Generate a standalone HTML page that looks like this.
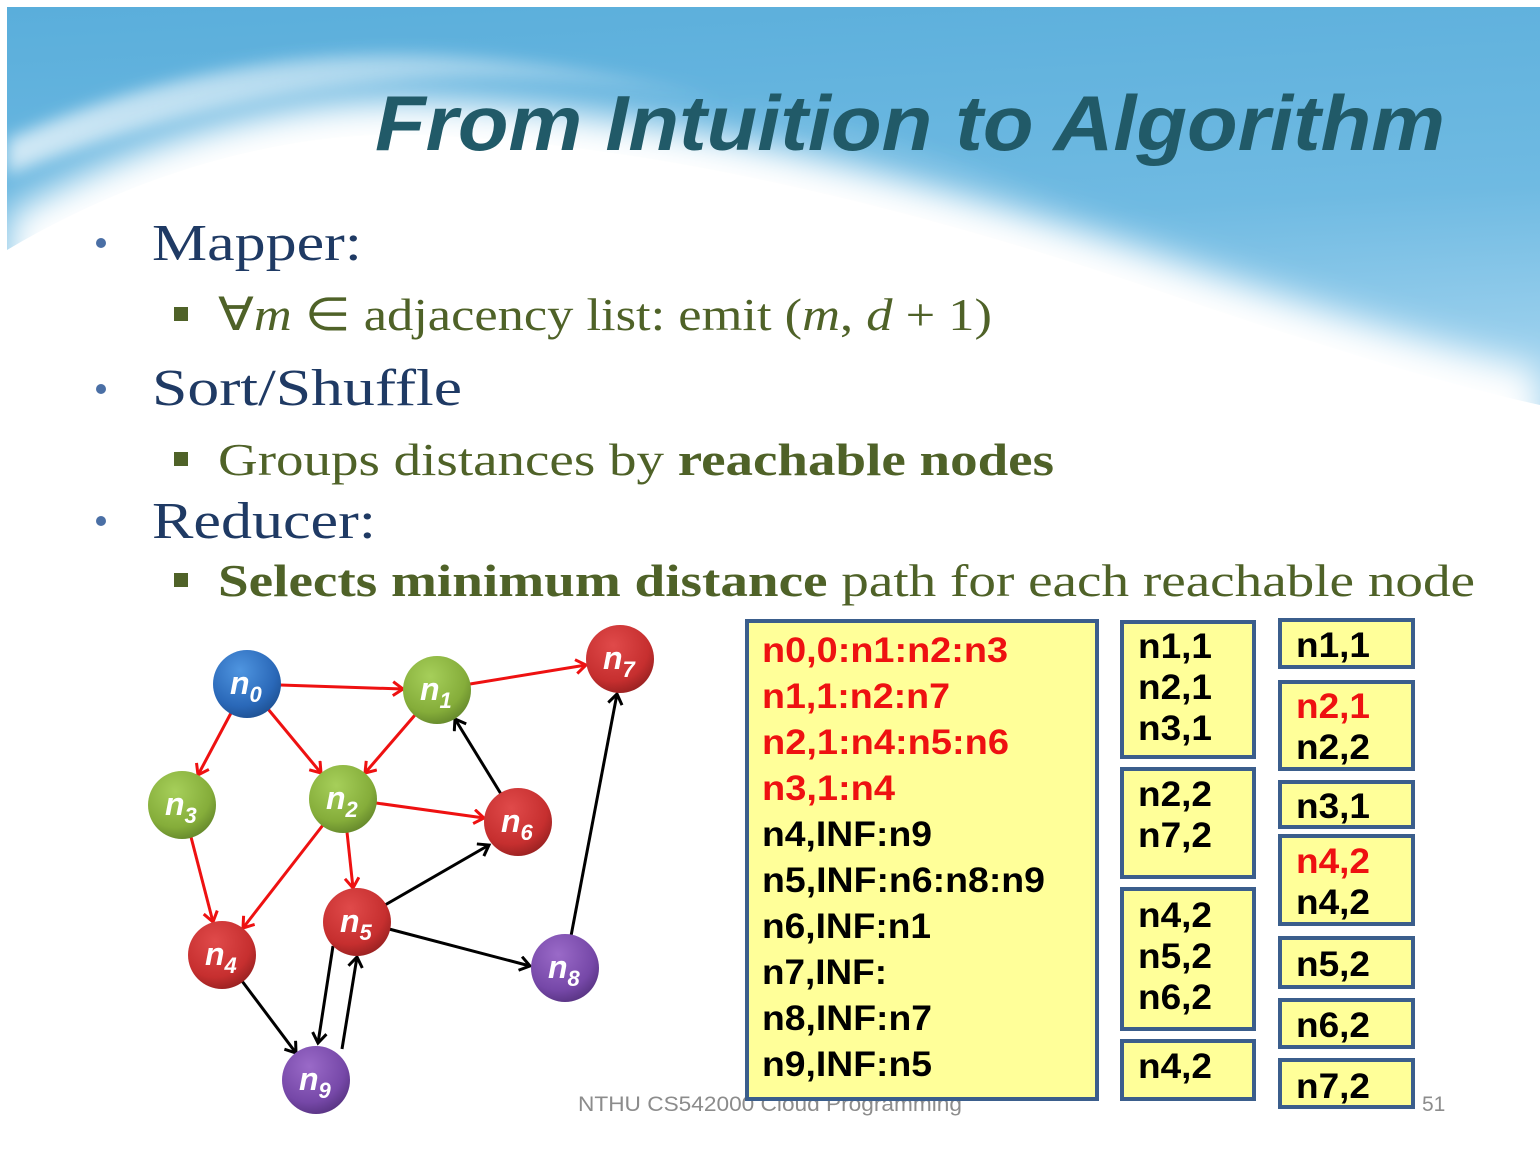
<!DOCTYPE html>
<html><head><meta charset="utf-8"><style>
html,body{margin:0;padding:0;background:#fff}
svg{display:block}
</style></head><body>
<svg width="1540" height="1155" viewBox="0 0 1540 1155" xmlns="http://www.w3.org/2000/svg">
<defs>
<linearGradient id="sky" x1="0" y1="0" x2="0.2" y2="1">
<stop offset="0" stop-color="#5aaedb"/><stop offset="0.6" stop-color="#6fbae2"/><stop offset="1" stop-color="#9fd2ee"/>
</linearGradient>
<linearGradient id="hl" x1="0" y1="0" x2="1" y2="0">
<stop offset="0" stop-color="#fff" stop-opacity="0.7"/><stop offset="0.5" stop-color="#fff" stop-opacity="0.35"/><stop offset="1" stop-color="#fff" stop-opacity="0"/>
</linearGradient>
<filter id="blur" x="-10%" y="-20%" width="120%" height="140%"><feGaussianBlur stdDeviation="18"/></filter>
<filter id="blur2" x="-10%" y="-50%" width="120%" height="200%"><feGaussianBlur stdDeviation="8"/></filter>
<radialGradient id="gB" cx="0.4" cy="0.3" r="0.75"><stop offset="0" stop-color="#4f95e0"/><stop offset="0.7" stop-color="#2a68b8"/><stop offset="1" stop-color="#1d4f90"/></radialGradient>
<radialGradient id="gG" cx="0.4" cy="0.3" r="0.75"><stop offset="0" stop-color="#a6cf5a"/><stop offset="0.7" stop-color="#85ad3a"/><stop offset="1" stop-color="#62852a"/></radialGradient>
<radialGradient id="gR" cx="0.4" cy="0.3" r="0.75"><stop offset="0" stop-color="#e04a4a"/><stop offset="0.7" stop-color="#c62f2f"/><stop offset="1" stop-color="#952020"/></radialGradient>
<radialGradient id="gP" cx="0.4" cy="0.3" r="0.75"><stop offset="0" stop-color="#9a6ac8"/><stop offset="0.7" stop-color="#7648a8"/><stop offset="1" stop-color="#563280"/></radialGradient>
<marker id="aR" markerWidth="20" markerHeight="20" refX="14" refY="8" orient="auto" markerUnits="userSpaceOnUse">
<polyline points="4,1 14,8 4,15" fill="none" stroke="#ee1111" stroke-width="3"/></marker>
<marker id="aK" markerWidth="20" markerHeight="20" refX="14" refY="8" orient="auto" markerUnits="userSpaceOnUse">
<polyline points="4,1 14,8 4,15" fill="none" stroke="#000" stroke-width="3"/></marker>
</defs>
<!-- background -->
<rect x="7" y="7" width="1533" height="1148" fill="#fff"/>
<rect x="7" y="7" width="1533" height="420" fill="url(#sky)"/>
<path d="M7,140 C150,75 300,50 430,55 C650,65 850,130 1100,220 C850,110 650,75 460,78 C300,82 150,120 7,175 Z" fill="url(#hl)" filter="url(#blur2)"/>
<path d="M7,215 C150,130 300,95 420,100 C700,110 1000,200 1200,270 C1350,320 1450,350 1540,370 V1155 H7 Z" fill="#fff" filter="url(#blur)"/>
<path d="M7,250 C150,165 300,130 420,135 C700,145 1000,235 1200,305 C1350,355 1450,385 1540,405 V1155 H7 Z" fill="#fff"/>
<!-- title -->
<text x="375" y="150" font-family="Liberation Sans, sans-serif" font-weight="bold" font-style="italic" font-size="78" fill="#215a68" textLength="1070" lengthAdjust="spacingAndGlyphs">From Intuition to Algorithm</text>
<!-- bullets -->
<g font-family="Liberation Serif, serif">
<circle cx="101" cy="243" r="5" fill="#4a6fa5"/>
<text x="152" y="260" font-size="52" fill="#1f3a64" textLength="210" lengthAdjust="spacingAndGlyphs">Mapper:</text>
<rect x="174" y="307" width="14" height="14" fill="#4f6228"/>
<text x="218" y="330" font-size="46" fill="#4f6228" textLength="774" lengthAdjust="spacingAndGlyphs">∀<tspan font-style="italic">m</tspan> ∈ adjacency list: emit (<tspan font-style="italic">m</tspan>, <tspan font-style="italic">d</tspan> + 1)</text>
<circle cx="101" cy="389" r="5" fill="#4a6fa5"/>
<text x="152" y="405" font-size="52" fill="#1f3a64" textLength="310" lengthAdjust="spacingAndGlyphs">Sort/Shuffle</text>
<rect x="174" y="452" width="14" height="14" fill="#4f6228"/>
<text x="218" y="475" font-size="46" fill="#4f6228" textLength="836" lengthAdjust="spacingAndGlyphs">Groups distances by <tspan font-weight="bold">reachable nodes</tspan></text>
<circle cx="101" cy="521" r="5" fill="#4a6fa5"/>
<text x="152" y="538" font-size="52" fill="#1f3a64" textLength="224" lengthAdjust="spacingAndGlyphs">Reducer:</text>
<rect x="174" y="573" width="14" height="14" fill="#4f6228"/>
<text x="218" y="596" font-size="46" fill="#4f6228" textLength="1257" lengthAdjust="spacingAndGlyphs"><tspan font-weight="bold">Selects minimum distance</tspan> path for each reachable node</text>
</g>
<!-- edges -->
<g stroke-width="3" fill="none">
<g stroke="#ee1111">
<line x1="280" y1="685" x2="403" y2="689" marker-end="url(#aR)"/>
<line x1="231" y1="713" x2="198" y2="775" marker-end="url(#aR)"/>
<line x1="268" y1="709" x2="321" y2="773" marker-end="url(#aR)"/>
<line x1="415" y1="715" x2="365" y2="773" marker-end="url(#aR)"/>
<line x1="470" y1="684" x2="586" y2="665" marker-end="url(#aR)"/>
<line x1="376" y1="803" x2="484" y2="818" marker-end="url(#aR)"/>
<line x1="347" y1="832" x2="353" y2="888" marker-end="url(#aR)"/>
<line x1="323" y1="825" x2="243" y2="928" marker-end="url(#aR)"/>
<line x1="191" y1="837" x2="213" y2="922" marker-end="url(#aR)"/>
</g>
<g stroke="#000">
<line x1="501" y1="794" x2="455" y2="719" marker-end="url(#aK)"/>
<line x1="385" y1="905" x2="489" y2="845" marker-end="url(#aK)"/>
<line x1="389" y1="929" x2="530" y2="966" marker-end="url(#aK)"/>
<line x1="242" y1="981" x2="296" y2="1053" marker-end="url(#aK)"/>
<line x1="571" y1="936" x2="617" y2="694" marker-end="url(#aK)"/>
<line x1="333" y1="946" x2="318" y2="1043" marker-end="url(#aK)"/>
<line x1="342" y1="1049" x2="357" y2="957" marker-end="url(#aK)"/>
</g>
</g>
<!-- nodes -->
<g font-family="Liberation Sans, sans-serif" font-weight="bold" font-style="italic" fill="#fff">
<circle cx="247" cy="684" r="34" fill="url(#gB)"/>
<circle cx="437" cy="690" r="34" fill="url(#gG)"/>
<circle cx="620" cy="659" r="34" fill="url(#gR)"/>
<circle cx="182" cy="805" r="34" fill="url(#gG)"/>
<circle cx="343" cy="799" r="34" fill="url(#gG)"/>
<circle cx="518" cy="822" r="34" fill="url(#gR)"/>
<circle cx="357" cy="922" r="34" fill="url(#gR)"/>
<circle cx="222" cy="955" r="34" fill="url(#gR)"/>
<circle cx="565" cy="968" r="34" fill="url(#gP)"/>
<circle cx="316" cy="1080" r="34" fill="url(#gP)"/>
<g font-size="32">
<text x="230" y="694">n<tspan font-size="22" dy="8">0</tspan></text>
<text x="420" y="700">n<tspan font-size="22" dy="8">1</tspan></text>
<text x="603" y="669">n<tspan font-size="22" dy="8">7</tspan></text>
<text x="165" y="815">n<tspan font-size="22" dy="8">3</tspan></text>
<text x="326" y="809">n<tspan font-size="22" dy="8">2</tspan></text>
<text x="501" y="832">n<tspan font-size="22" dy="8">6</tspan></text>
<text x="340" y="932">n<tspan font-size="22" dy="8">5</tspan></text>
<text x="205" y="965">n<tspan font-size="22" dy="8">4</tspan></text>
<text x="548" y="978">n<tspan font-size="22" dy="8">8</tspan></text>
<text x="299" y="1090">n<tspan font-size="22" dy="8">9</tspan></text>
</g>
</g>
<!-- footer -->
<g font-family="Liberation Sans, sans-serif" font-size="21" fill="#8c8c8c">
<text x="578" y="1111" textLength="384" lengthAdjust="spacingAndGlyphs">NTHU CS542000 Cloud Programming</text>
<text x="1422" y="1111">51</text>
</g>
<!-- boxes -->
<g fill="#ffff99" stroke="#3b5e8c" stroke-width="4">
<rect x="747" y="621" width="350" height="478"/>
<rect x="1122" y="622" width="132" height="135"/>
<rect x="1122" y="769" width="132" height="108"/>
<rect x="1122" y="889" width="132" height="140"/>
<rect x="1122" y="1041" width="132" height="58"/>
<rect x="1280" y="620" width="133" height="47"/>
<rect x="1280" y="682" width="133" height="87"/>
<rect x="1280" y="782" width="133" height="45"/>
<rect x="1280" y="836" width="133" height="88"/>
<rect x="1280" y="938" width="133" height="49"/>
<rect x="1280" y="1000" width="133" height="47"/>
<rect x="1280" y="1060" width="133" height="47"/>
</g>
<g font-family="Liberation Sans, sans-serif" font-weight="bold" font-size="35">
<g fill="#ee1111">
<text x="762" y="662" textLength="246" lengthAdjust="spacingAndGlyphs">n0,0:n1:n2:n3</text>
<text x="762" y="708" textLength="188" lengthAdjust="spacingAndGlyphs">n1,1:n2:n7</text>
<text x="762" y="754" textLength="247" lengthAdjust="spacingAndGlyphs">n2,1:n4:n5:n6</text>
<text x="762" y="800" textLength="133" lengthAdjust="spacingAndGlyphs">n3,1:n4</text>
<text x="1296" y="718" textLength="74" lengthAdjust="spacingAndGlyphs">n2,1</text>
<text x="1296" y="873" textLength="74" lengthAdjust="spacingAndGlyphs">n4,2</text>
</g>
<g fill="#000">
<text x="762" y="846" textLength="170" lengthAdjust="spacingAndGlyphs">n4,INF:n9</text>
<text x="762" y="892" textLength="283" lengthAdjust="spacingAndGlyphs">n5,INF:n6:n8:n9</text>
<text x="762" y="938" textLength="169" lengthAdjust="spacingAndGlyphs">n6,INF:n1</text>
<text x="762" y="984" textLength="125" lengthAdjust="spacingAndGlyphs">n7,INF:</text>
<text x="762" y="1030" textLength="170" lengthAdjust="spacingAndGlyphs">n8,INF:n7</text>
<text x="762" y="1076" textLength="170" lengthAdjust="spacingAndGlyphs">n9,INF:n5</text>
<text x="1138" y="658" textLength="74" lengthAdjust="spacingAndGlyphs">n1,1</text>
<text x="1138" y="699" textLength="74" lengthAdjust="spacingAndGlyphs">n2,1</text>
<text x="1138" y="740" textLength="74" lengthAdjust="spacingAndGlyphs">n3,1</text>
<text x="1138" y="806" textLength="74" lengthAdjust="spacingAndGlyphs">n2,2</text>
<text x="1138" y="847" textLength="74" lengthAdjust="spacingAndGlyphs">n7,2</text>
<text x="1138" y="927" textLength="74" lengthAdjust="spacingAndGlyphs">n4,2</text>
<text x="1138" y="968" textLength="74" lengthAdjust="spacingAndGlyphs">n5,2</text>
<text x="1138" y="1009" textLength="74" lengthAdjust="spacingAndGlyphs">n6,2</text>
<text x="1138" y="1078" textLength="74" lengthAdjust="spacingAndGlyphs">n4,2</text>
<text x="1296" y="657" textLength="74" lengthAdjust="spacingAndGlyphs">n1,1</text>
<text x="1296" y="759" textLength="74" lengthAdjust="spacingAndGlyphs">n2,2</text>
<text x="1296" y="818" textLength="74" lengthAdjust="spacingAndGlyphs">n3,1</text>
<text x="1296" y="914" textLength="74" lengthAdjust="spacingAndGlyphs">n4,2</text>
<text x="1296" y="976" textLength="74" lengthAdjust="spacingAndGlyphs">n5,2</text>
<text x="1296" y="1037" textLength="74" lengthAdjust="spacingAndGlyphs">n6,2</text>
<text x="1296" y="1098" textLength="74" lengthAdjust="spacingAndGlyphs">n7,2</text>
</g>
</g>
</svg>
</body></html>
